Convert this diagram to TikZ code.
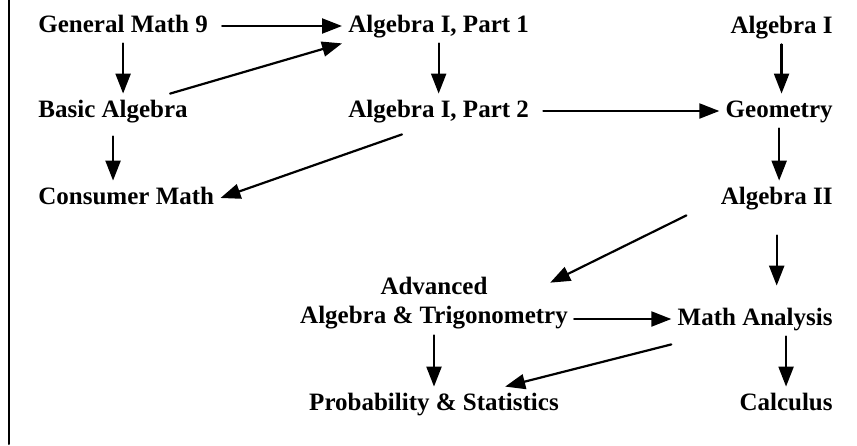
\documentclass[tikz,border=0pt]{standalone}
\usepackage{fontspec}
\setmainfont{Liberation Serif}
\usetikzlibrary{arrows.meta}
\begin{document}
\begin{tikzpicture}[x=0.5pt,y=-0.5pt,line cap=round,line join=round,
  course/.style={font=\fontsize{12.5}{14.5}\selectfont\bfseries,inner sep=3pt,text height=8.5pt,text depth=2.5pt},
  twoline/.style={font=\fontsize{12.5}{14.5}\selectfont\bfseries,inner sep=3pt,align=center},
  arr/.style={-{Triangle[length=10pt,width=7.5pt]},line width=1.1pt}]
 \useasboundingbox (0,0) rectangle (857,445);
 \draw[line width=1pt] (8.5,0) -- (8.5,444);
 \node[course,anchor=west] (gm9) at (32,26) {General Math 9};
 \node[course,anchor=west] (alg1p1) at (342,26) {Algebra I, Part 1};
 \node[course,anchor=east] (alg1) at (839,27) {Algebra I};
 \node[course,anchor=west] (basic) at (32,111) {Basic Algebra};
 \node[course,anchor=west] (alg1p2) at (342,111) {Algebra I, Part 2};
 \node[course,anchor=east] (geom) at (839,111) {Geometry};
 \node[course,anchor=west] (consumer) at (32,198) {Consumer Math};
 \node[course,anchor=east] (alg2) at (839,198) {Algebra II};
 \node[twoline] (advtrig) at (434,303) {Advanced\\Algebra \& Trigonometry};
 \node[course,anchor=east] (analysis) at (839,319) {Math Analysis};
 \node[course] (probstat) at (434,404) {Probability \& Statistics};
 \node[course,anchor=east] (calc) at (839,404) {Calculus};
 \draw[arr,shorten <=4pt] (gm9) -- (alg1p1);
 \draw[arr] (gm9.south) -- (gm9.south |- basic.north);
 \draw[arr] ([xshift=-12pt]basic.north east) -- (alg1p1.south west);
 \draw[arr,shorten <=4pt] (basic.south) -- (basic.south |- consumer.north);
 \draw[arr] (alg1p1.south) -- (alg1p1.south |- alg1p2.north);
 \draw[arr,shorten <=4pt] (alg1p2) -- (geom);
 \draw[arr] ([xshift=30pt,yshift=-3pt]alg1p2.south west) -- (consumer.east);
 \draw[arr] (alg1.south) -- (alg1.south |- geom.north);
 \draw[arr] (geom.south) -- (geom.south |- alg2.north);
 \draw[arr] ([xshift=-14pt]alg2.south west) -- ([xshift=-12pt,yshift=-6pt]advtrig.north east);
 \draw[arr,shorten <=10pt,shorten >=8pt] (alg2.south) -- (alg2.south |- analysis.north);
 \draw[arr] (advtrig.east |- analysis.west) -- (analysis.west);
 \draw[arr] (advtrig.south) -- (advtrig.south |- probstat.north);
 \draw[arr] ([yshift=-4pt]analysis.south west) -- ([xshift=-30pt]probstat.north east);
 \draw[arr] (calc.north |- analysis.south) -- (calc.north);
\end{tikzpicture}
\end{document}
